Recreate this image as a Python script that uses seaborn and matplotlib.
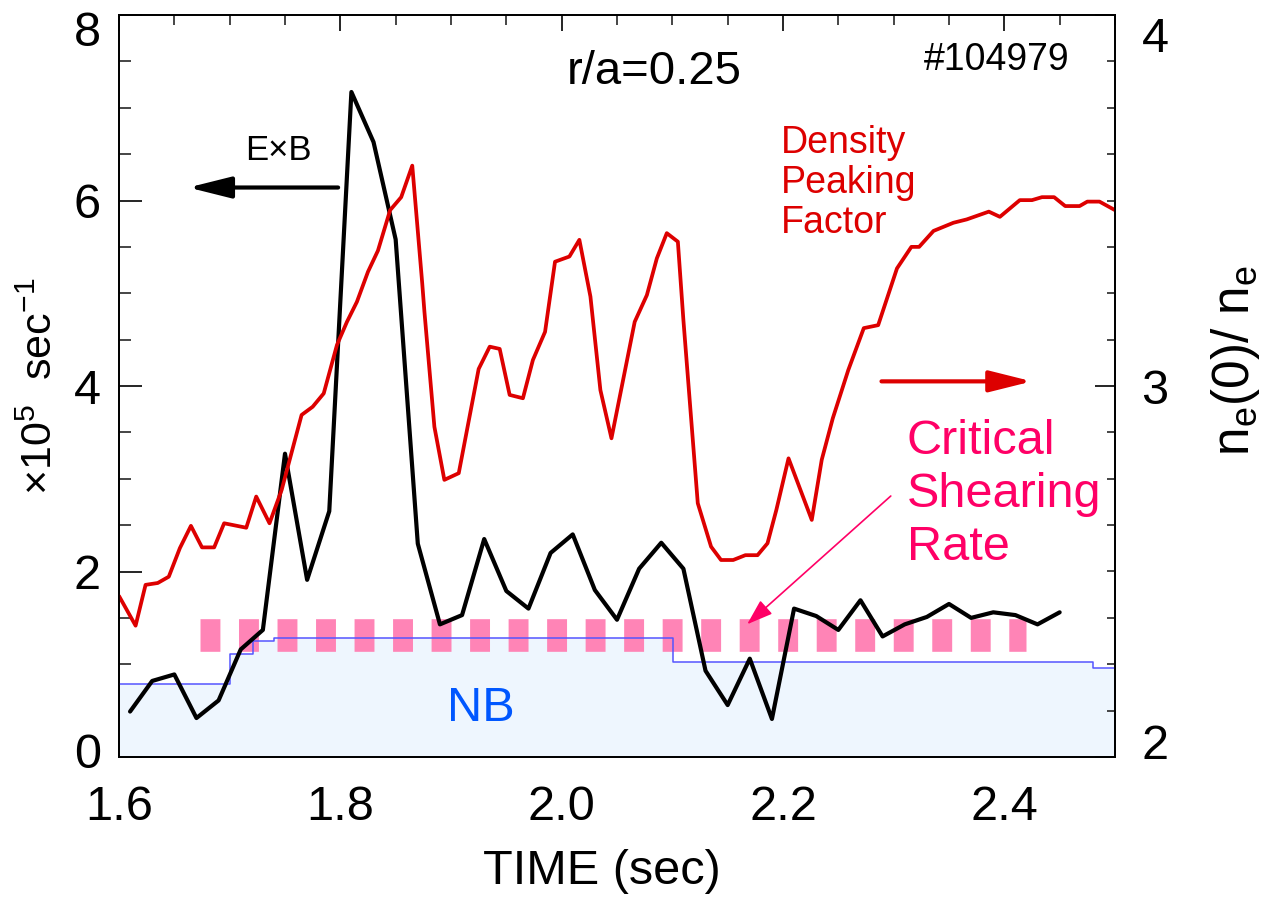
import numpy as np
import pandas as pd
import matplotlib
matplotlib.use("Agg")
import matplotlib.pyplot as plt
import matplotlib.transforms as mtransforms
import seaborn as sns

# ---------------- data ----------------
exb_time = [1.61, 1.63, 1.65, 1.67, 1.69, 1.71, 1.73, 1.75, 1.77, 1.79, 1.81, 1.83, 1.85,
            1.87, 1.89, 1.91, 1.93, 1.95, 1.97, 1.99, 2.01, 2.03, 2.05, 2.07, 2.09, 2.11,
            2.13, 2.15, 2.17, 2.19, 2.21, 2.23, 2.25, 2.27, 2.29, 2.31, 2.33, 2.35, 2.37,
            2.39, 2.41, 2.43, 2.45]
exb_rate = [0.49, 0.82, 0.89, 0.42, 0.61, 1.16, 1.37, 3.27, 1.91, 2.65, 7.17, 6.63, 5.58,
            2.30, 1.43, 1.53, 2.35, 1.79, 1.60, 2.20, 2.40, 1.80, 1.48, 2.03, 2.31, 2.03,
            0.93, 0.56, 1.06, 0.41, 1.60, 1.52, 1.37, 1.69, 1.30, 1.43, 1.51, 1.65, 1.50,
            1.56, 1.53, 1.43, 1.56]

dpf_time = [1.600, 1.615, 1.624, 1.635, 1.645, 1.655, 1.665, 1.675, 1.686, 1.695, 1.715,
            1.724, 1.736, 1.747, 1.765, 1.775, 1.785, 1.797, 1.806, 1.815, 1.825, 1.834,
            1.845, 1.855, 1.865, 1.874, 1.876, 1.885, 1.894, 1.907, 1.925, 1.935, 1.944,
            1.953, 1.965, 1.974, 1.985, 1.994, 2.007, 2.016, 2.026, 2.035, 2.045, 2.066,
            2.077, 2.086, 2.095, 2.105, 2.110, 2.123, 2.135, 2.144, 2.155, 2.166, 2.177,
            2.186, 2.194, 2.205, 2.226, 2.235, 2.245, 2.259, 2.273, 2.286, 2.293, 2.303,
            2.316, 2.323, 2.336, 2.354, 2.366, 2.386, 2.396, 2.414, 2.425, 2.434, 2.445,
            2.455, 2.468, 2.475, 2.486, 2.500]
dpf_value = [2.434, 2.354, 2.464, 2.469, 2.486, 2.563, 2.623, 2.565, 2.565, 2.630, 2.618,
             2.702, 2.630, 2.720, 2.922, 2.944, 2.980, 3.111, 3.173, 3.227, 3.308, 3.365,
             3.474, 3.509, 3.594, 3.277, 3.200, 2.890, 2.747, 2.765, 3.046, 3.106, 3.100,
             2.976, 2.967, 3.070, 3.146, 3.335, 3.349, 3.394, 3.241, 2.989, 2.859, 3.173,
             3.245, 3.344, 3.412, 3.389, 3.178, 2.684, 2.567, 2.531, 2.531, 2.544, 2.544,
             2.576, 2.666, 2.805, 2.639, 2.801, 2.913, 3.043, 3.156, 3.164, 3.227, 3.317,
             3.375, 3.375, 3.418, 3.440, 3.449, 3.470, 3.456, 3.501, 3.501, 3.509, 3.509,
             3.485, 3.485, 3.497, 3.497, 3.474]

nb_time = [1.600, 1.700, 1.721, 1.740, 2.101, 2.480, 2.500]
nb_level = [0.79, 1.11, 1.25, 1.28, 1.02, 0.96, 0.96]

crit_time = [1.673, 2.420]
crit_rate = [1.31, 1.31]

x_ticks = [1.6, 1.8, 2.0, 2.2, 2.4]
x_ticklabels = ["1.6", "1.8", "2.0", "2.2", "2.4"]
yl_ticks = [0, 2, 4, 6, 8]
yr_ticks = [2, 3, 4]

# ---------------- style ----------------
sns.set_theme(style="ticks")
plt.rcParams['font.family'] = ['Liberation Sans', 'DejaVu Sans']
plt.rcParams['mathtext.fontset'] = 'custom'
plt.rcParams['mathtext.rm'] = 'Liberation Sans'
plt.rcParams['mathtext.it'] = 'Liberation Sans:italic'
plt.rcParams['mathtext.bf'] = 'Liberation Sans:bold'

RED = '#dd0000'
PINK = '#ff84b6'
MAGENTA = '#ff0066'
BLUE_LINE = '#5555ff'
BLUE_FILL = '#eef6fe'
NB_TEXT = '#0057ff'

fig = plt.figure(figsize=(12.82, 9), dpi=100)
ax = fig.add_axes([0.09282, 0.15889, 0.77691, 0.82444])
ax2 = ax.twinx()

df_exb = pd.DataFrame({"time": exb_time, "rate": exb_rate})
df_dpf = pd.DataFrame({"time": dpf_time, "dpf": dpf_value})
df_nb = pd.DataFrame({"time": nb_time, "nb": nb_level})
df_crit = pd.DataFrame({"time": crit_time, "rate": crit_rate})

# NB (filled step)
ax.fill_between(df_nb["time"], df_nb["nb"], 0, step='post', color=BLUE_FILL,
                lw=0, zorder=1)
# critical shearing rate (thick dashes)
sns.lineplot(data=df_crit, x="time", y="rate", ax=ax, color=PINK, lw=23.5,
             linestyle=(0, (0.61, 0.57)), zorder=2, sort=False, estimator=None)
sns.lineplot(data=df_nb, x="time", y="nb", ax=ax, color=BLUE_LINE, lw=1.1,
             drawstyle='steps-post', zorder=3, sort=False, estimator=None)
sns.lineplot(data=df_exb, x="time", y="rate", ax=ax, color='black', lw=3.0,
             zorder=5, sort=False, estimator=None)
sns.lineplot(data=df_dpf, x="time", y="dpf", ax=ax2, color=RED, lw=2.7,
             sort=False, estimator=None)

# ---------------- axes ----------------
ax.set_xlim(1.6, 2.5)
ax.set_ylim(0, 8)
ax2.set_ylim(2, 4)

ax.set_xticks(x_ticks)
ax.set_xticklabels(x_ticklabels)
ax.set_xticks(np.arange(1.6, 2.5001, 0.05), minor=True)
ax.set_yticks(yl_ticks)
ax.set_yticklabels([str(v) for v in yl_ticks])
ax.set_yticks(np.arange(0, 8.001, 0.5), minor=True)
ax2.set_yticks(yr_ticks)
ax2.set_yticklabels([str(v) for v in yr_ticks])
ax2.set_yticks(np.arange(2, 4.001, 0.125), minor=True)

for a in (ax, ax2):
    for s in a.spines.values():
        s.set_linewidth(1.3)
        s.set_color('black')

ax.tick_params(axis='x', which='major', direction='in', length=11.5, width=1.2,
               top=True, bottom=True, labelsize=35, pad=20, colors='black')
ax.tick_params(axis='x', which='minor', direction='in', length=7, width=1.2,
               top=True, bottom=True)
ax.tick_params(axis='y', which='major', direction='in', length=16.5, width=1.2,
               left=True, right=False, labelsize=35, pad=13, colors='black')
ax.tick_params(axis='y', which='minor', direction='in', length=8.6, width=1.2,
               left=True, right=False)
ax2.tick_params(axis='y', which='major', direction='in', length=14.4, width=1.2,
                right=True, left=False, labelsize=35, pad=19, colors='black')
ax2.tick_params(axis='y', which='minor', direction='in', length=5.8, width=1.2,
                right=True, left=False)

ax.set_xlabel("TIME (sec)", fontsize=35, color='black')
ax.xaxis.set_label_coords(0.485, -0.124)
ax.set_ylabel(r"$\times$10$^5$  sec$^{-1}$", fontsize=31, color='black')
ax.yaxis.set_label_coords(-0.058, 0.5)
ax2.set_ylabel(r"n$_\mathregular{e}$(0)/ n$_\mathregular{e}$", fontsize=37, color='black')
ax2.yaxis.set_label_coords(1.094, 0.535)

# shift end tick labels inside the figure like the reference
fig.canvas.draw()
def shift_label(lab, dy_px):
    off = mtransforms.ScaledTranslation(0, dy_px / 100.0, fig.dpi_scale_trans)
    lab.set_transform(lab.get_transform() + off)

lt = ax.yaxis.get_major_ticks()
shift_label(lt[-1].label1, -13)
shift_label(lt[0].label1, 6)
rt = ax2.yaxis.get_major_ticks()
shift_label(rt[-1].label2, -19)
shift_label(rt[0].label2, 15)

# ---------------- annotations ----------------
ax.text(2.084, 7.256, "r/a=0.25", fontsize=34, ha='center', va='baseline', color='black')
ax.text(2.393, 7.41, "#104979", fontsize=27, ha='center', va='baseline', color='black')
ax.text(1.7436, 6.437, "E\u00d7B", fontsize=25, ha='center', va='baseline', color='black')

ax.annotate('', xy=(1.6626, 6.14), xytext=(1.798, 6.14),
            arrowprops=dict(arrowstyle='-|>,head_length=2.6,head_width=0.65',
                            mutation_scale=10, lw=3, color='black',
                            shrinkA=0, shrinkB=0))
ax.annotate('', xy=(2.425, 4.05), xytext=(2.289, 4.05),
            arrowprops=dict(arrowstyle='-|>,head_length=2.6,head_width=0.65',
                            mutation_scale=10, lw=3, color=RED,
                            shrinkA=0, shrinkB=0))

for txt, yb in zip(["Density", "Peaking", "Factor"], [6.512, 6.08, 5.65]):
    ax.text(2.198, yb, txt, fontsize=27, ha='left', va='baseline', color=RED)

for txt, yb in zip(["Critical", "Shearing", "Rate"], [3.266, 2.70, 2.126]):
    ax.text(2.3118, yb, txt, fontsize=35, ha='left', va='baseline', color=MAGENTA)

ax.annotate('', xy=(2.1676, 1.431), xytext=(2.2974, 2.814),
            arrowprops=dict(arrowstyle='-|>,head_length=1.6,head_width=0.55',
                            mutation_scale=10, lw=1.2, color=MAGENTA,
                            shrinkA=0, shrinkB=0))

ax.text(1.927, 0.39, "NB", fontsize=35, ha='center', va='baseline', color=NB_TEXT)

fig.savefig("out.png", dpi=100)
